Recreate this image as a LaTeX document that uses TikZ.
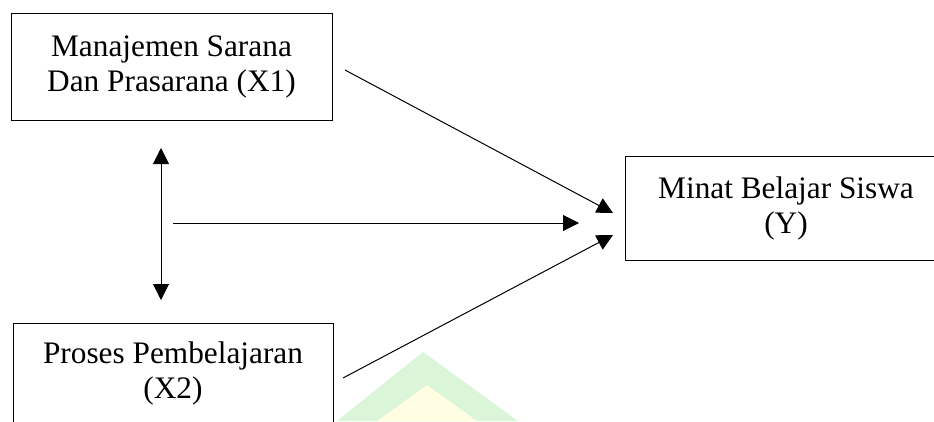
\documentclass[tikz,border=0pt]{standalone}
\usepackage{fontspec}
\setmainfont{Liberation Serif}
\usetikzlibrary{arrows.meta}
\definecolor{wmgreen}{RGB}{218,245,215}
\definecolor{wmyellow}{RGB}{255,253,226}
\tikzset{
  varbox/.style={draw=black, line width=0.9pt, rectangle, align=center, inner sep=0pt,
    font=\fontsize{31.3}{35}\selectfont},
  conn/.style={line width=1pt, -{Triangle[length=16pt,width=16pt]}},
  biconn/.style={line width=1pt, {Triangle[length=16pt,width=16pt]}-{Triangle[length=16pt,width=16pt]}}
}
\begin{document}
\begin{tikzpicture}[x=1pt,y=-1pt]
\useasboundingbox (0,0) rectangle (934,421);
\fill[white] (0,0) rectangle (934,421);
\begin{scope}
\clip (0,0) rectangle (934,421);
% faint watermark
\fill[wmgreen] (337,421) -- (423,352) -- (518,421) -- cycle;
\fill[wmyellow] (377,421) -- (427,385) -- (477,421) -- cycle;
% boxes
\node[varbox, minimum width=321pt, minimum height=107pt] (x1) at (171.5,66.5) {Manajemen Sarana\\Dan Prasarana (X1)};
\node[varbox, minimum width=322pt, minimum height=104pt] (y) at (786,208) {Minat Belajar Siswa\\(Y)};
\node[varbox, minimum width=320pt, minimum height=100pt] (x2) at (173,373) {Proses Pembelajaran\\(X2)};
\end{scope}
% connector end points
\coordinate (a1s) at (345,70);
\coordinate (a1e) at (613,213);
\coordinate (a2s) at (173,223);
\coordinate (a2e) at (579,223);
\coordinate (a3s) at (343,378);
\coordinate (a3e) at (613,235);
\coordinate (vt) at (161,148);
\coordinate (vb) at (161,300);
\draw[conn] (a1s) -- (a1e);
\draw[conn] (a2s) -- (a2e);
\draw[conn] (a3s) -- (a3e);
\draw[biconn] (vt) -- (vb);
\end{tikzpicture}
\end{document}
